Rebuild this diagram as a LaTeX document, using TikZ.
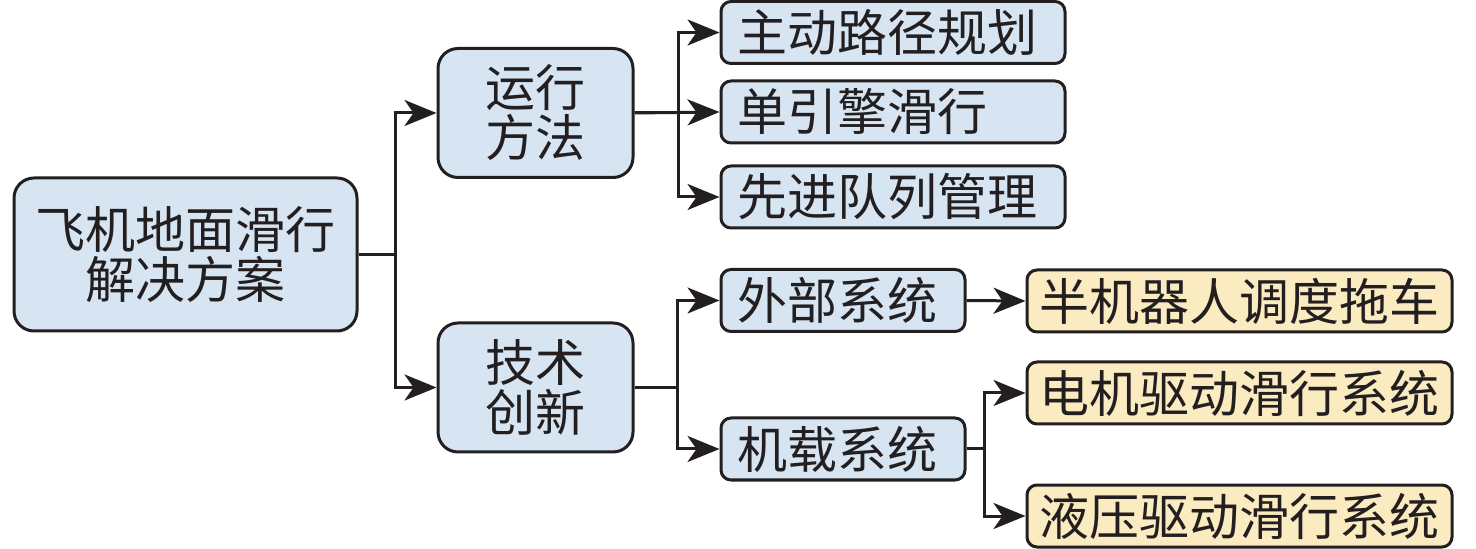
\documentclass[tikz,border=0pt]{standalone}
\usepackage{fontspec}
\newfontfamily\cjk{Noto Sans CJK SC}
\usepackage{tikz}
\usetikzlibrary{arrows.meta}
\usepackage{xcolor}
\definecolor{boxblue}{RGB}{214,229,241}
\definecolor{boxtan}{RGB}{251,235,193}
\definecolor{ink}{RGB}{35,31,32}

\begin{document}
\begin{tikzpicture}[x=0.5pt,y=-0.5pt,line width=1.5pt,color=ink,
    >={Stealth[length=16pt,width=13pt,inset=4.5pt]}]
  \tikzstyle{every node}=[font=\cjk\fontsize{25}{25}\selectfont]
  \tikzstyle{box}=[draw,fill=boxblue,rounded corners=5pt,inner ysep=0pt,
    minimum height=31pt]
  \tikzstyle{leaf}=[box,inner xsep=8pt,align=left]
  \tikzstyle{goal}=[box,fill=boxtan,inner xsep=4pt,minimum width=212.5pt,align=center]
  \tikzstyle{big}=[box,rounded corners=10pt,align=center]

  \useasboundingbox (0,0) rectangle (1476,549);

  \node[big,minimum width=171.5pt,minimum height=76.5pt] (root) at (185.5,254.5)
    {飞机地面滑行\\解决方案};
  \node[big,minimum width=97.5pt,minimum height=64.5pt] (op)   at (535.5,113)
    {运行\\方法};
  \node[big,minimum width=97.5pt,minimum height=64.5pt] (tech) at (535.5,387.5)
    {技术\\创新};

  \node[leaf,text width=156pt] (op_1) at (893,32.5) {主动路径规划};
  \node[leaf,text width=156pt] (op_2) at (893,112)  {单引擎滑行};
  \node[leaf,text width=156pt] (op_3) at (893,197)  {先进队列管理};

  \node[leaf,text width=106pt] (ext) at (843,300.5) {外部系统};
  \node[leaf,text width=106pt] (onb) at (843,449)   {机载系统};

  \node[goal] (ext_1) at (1239.5,301) {半机器人调度拖车};
  \node[goal] (onb_1) at (1239.5,393) {电机驱动滑行系统};
  \node[goal] (onb_2) at (1239.5,516) {液压驱动滑行系统};

  \draw[->] (root.east) -- ++(18.5pt,0) |- (op.west);
  \draw[->] (root.east) -- ++(18.5pt,0) |- (tech.west);

  \draw[->] (op.east) -- ++(22pt,0) |- (op_1.west);
  \draw[->] (op.east) -- (op_2.west);
  \draw[->] (op.east) -- ++(22pt,0) |- (op_3.west);

  \draw[->] (tech.east) -- ++(21.5pt,0) |- (ext.west);
  \draw[->] (tech.east) -- ++(21.5pt,0) |- (onb.west);

  \draw[->] (ext.east) -- (ext_1.west);
  \draw[->] (onb.east) -- ++(9pt,0) |- (onb_1.west);
  \draw[->] (onb.east) -- ++(9pt,0) |- (onb_2.west);
\end{tikzpicture}
\end{document}
